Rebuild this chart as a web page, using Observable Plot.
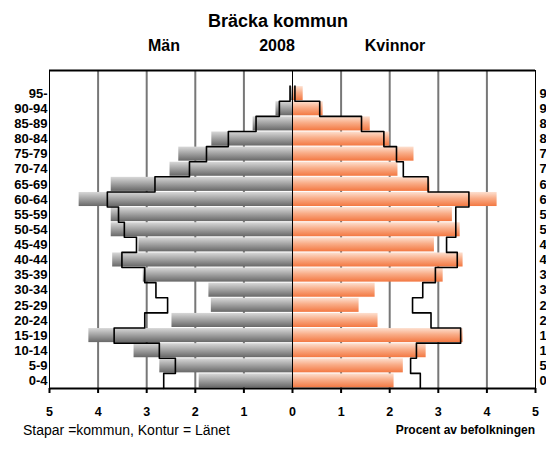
<!DOCTYPE html>
<html>
<head>
<meta charset="utf-8">
<script src="https://cdn.jsdelivr.net/npm/d3@7"></script>
<script src="https://cdn.jsdelivr.net/npm/@observablehq/plot@0.6"></script>
<style>
  body { margin: 0; background: #fff; }
  #chart { position: relative; width: 546px; height: 454px; }
</style>
</head>
<body>
<div id="chart"></div>
<script>
// Age groups, top to bottom as drawn
const ageGroups = ["95-","90-94","85-89","80-84","75-79","70-74","65-69","60-64","55-59","50-54","45-49","40-44","35-39","30-34","25-29","20-24","15-19","10-14","5-9","0-4"];
// Bars = kommun (percent of population)
const menKommun   = [0.05,0.34,0.81,1.66,2.34,2.52,3.73,4.39,3.73,3.73,3.16,3.70,3.07,1.72,1.67,2.48,4.19,3.26,2.73,1.92];
const womenKommun = [0.22,0.63,1.60,2.00,2.50,2.17,2.83,4.21,3.29,3.45,2.92,3.51,3.10,1.70,1.37,1.76,3.51,2.75,2.28,2.09];
// Contour = Länet
const menLan   = [0.05,0.27,0.75,1.32,1.77,2.12,2.83,3.81,3.58,3.46,3.21,3.51,3.04,2.81,2.57,3.04,3.67,2.74,2.41,2.65];
const womenLan = [0.05,0.56,1.42,1.88,2.14,2.28,2.79,3.63,3.36,3.36,3.17,3.39,2.94,2.68,2.47,2.85,3.46,2.55,2.43,2.63];
const xTicks = [-5,-4,-3,-2,-1,0,1,2,3,4,5];
const gridTicks = [-4,-3,-2,-1,1,2,3,4];

const titleText = "Bräcka kommun";
const leftHead = "Män", midHead = "2008", rightHead = "Kvinnor";
const footLeft = "Stapar =kommun, Kontur = Länet";
const footRight = "Procent av befolkningen";

const n = ageGroups.length;
const rows = ageGroups.map((g, r) => ({
  g, i: n - 1 - r,
  men: menKommun[r], women: womenKommun[r],
  menL: menLan[r], womenL: womenLan[r]
}));
const pad = 0.035;
const menLine = rows.flatMap(d => [{x: -d.menL, y: d.i + 1}, {x: -d.menL, y: d.i}]);
const womenLine = rows.flatMap(d => [{x: d.womenL, y: d.i + 1}, {x: d.womenL, y: d.i}]);
const labelPos = rows.map(d => d.i + 0.5);
const labelOf = v => rows.find(d => Math.abs(d.i + 0.5 - v) < 1e-6).g;

const font = "Liberation Sans, Arial, Helvetica, sans-serif";

const svg = Plot.plot({
  width: 546,
  height: 454,
  marginTop: 70,
  marginBottom: 66,
  marginLeft: 49,
  marginRight: 11,
  style: {fontFamily: font, background: "white", color: "black", overflow: "visible"},
  x: {domain: [-5, 5], label: null},
  y: {domain: [0, n], range: [388, 85.6], label: null},
  marks: [
    Plot.gridX(gridTicks, {stroke: "#777", strokeOpacity: 1, strokeWidth: 2}),
    Plot.rectX(rows, {x1: () => 0, x2: d => -d.men, y1: d => d.i + pad, y2: d => d.i + 1 - pad, fill: "url(#gradMen)"}),
    Plot.rectX(rows, {x1: () => 0, x2: d => d.women, y1: d => d.i + pad, y2: d => d.i + 1 - pad, fill: "url(#gradWomen)"}),
    Plot.ruleX([0], {stroke: "black", strokeWidth: 1}),
    Plot.line(menLine, {x: "x", y: "y", stroke: "black", strokeWidth: 1.6}),
    Plot.line(womenLine, {x: "x", y: "y", stroke: "black", strokeWidth: 1.6}),
    Plot.frame({stroke: "black", strokeWidth: 1}),
    Plot.ruleY([0], {stroke: "black", strokeWidth: 2}),
    Plot.axisX(xTicks, {anchor: "bottom", label: null, tickSize: 5, tickPadding: 14, strokeWidth: 2, tickFormat: d => Math.abs(d), fontSize: 12.5, fontWeight: "bold"}),
    Plot.axisY(labelPos, {anchor: "left", label: null, tickSize: 0, tickPadding: 2, tickFormat: labelOf, fontSize: 13, fontWeight: "bold"}),
    Plot.axisY(labelPos, {anchor: "right", label: null, tickSize: 0, tickPadding: 4, tickFormat: v => labelOf(v)[0], fontSize: 13, fontWeight: "bold"})
  ]
});

const s = d3.select(svg);
const defs = s.insert("defs", ":first-child");
function grad(id, top, mid, bottom) {
  const g = defs.append("linearGradient").attr("id", id).attr("x1", 0).attr("y1", 0).attr("x2", 0).attr("y2", 1);
  g.append("stop").attr("offset", "0%").attr("stop-color", top);
  g.append("stop").attr("offset", "45%").attr("stop-color", mid);
  g.append("stop").attr("offset", "100%").attr("stop-color", bottom);
}
grad("gradMen", "#d8d8d8", "#a6a6a6", "#686868");
grad("gradWomen", "#fde0d0", "#f9ad88", "#f37842");

// top border thicker
s.append("line").attr("x1", 49).attr("x2", 535).attr("y1", 70.5).attr("y2", 70.5).attr("stroke", "black").attr("stroke-width", 2);

const t = s.append("g").attr("font-family", font).attr("fill", "black");
t.append("text").attr("x", 278).attr("y", 27).attr("text-anchor", "middle").attr("font-size", 18).attr("font-weight", "bold").text(titleText);
t.append("text").attr("x", 164).attr("y", 51).attr("text-anchor", "middle").attr("font-size", 16).attr("font-weight", "bold").text(leftHead);
t.append("text").attr("x", 277).attr("y", 51).attr("text-anchor", "middle").attr("font-size", 16).attr("font-weight", "bold").text(midHead);
t.append("text").attr("x", 395).attr("y", 51).attr("text-anchor", "middle").attr("font-size", 16).attr("font-weight", "bold").text(rightHead);
t.append("text").attr("x", 23).attr("y", 435).attr("text-anchor", "start").attr("font-size", 14).text(footLeft);
t.append("text").attr("x", 535).attr("y", 434).attr("text-anchor", "end").attr("font-size", 12).attr("font-weight", "bold").text(footRight);

document.getElementById("chart").appendChild(svg);
</script>
</body>
</html>
